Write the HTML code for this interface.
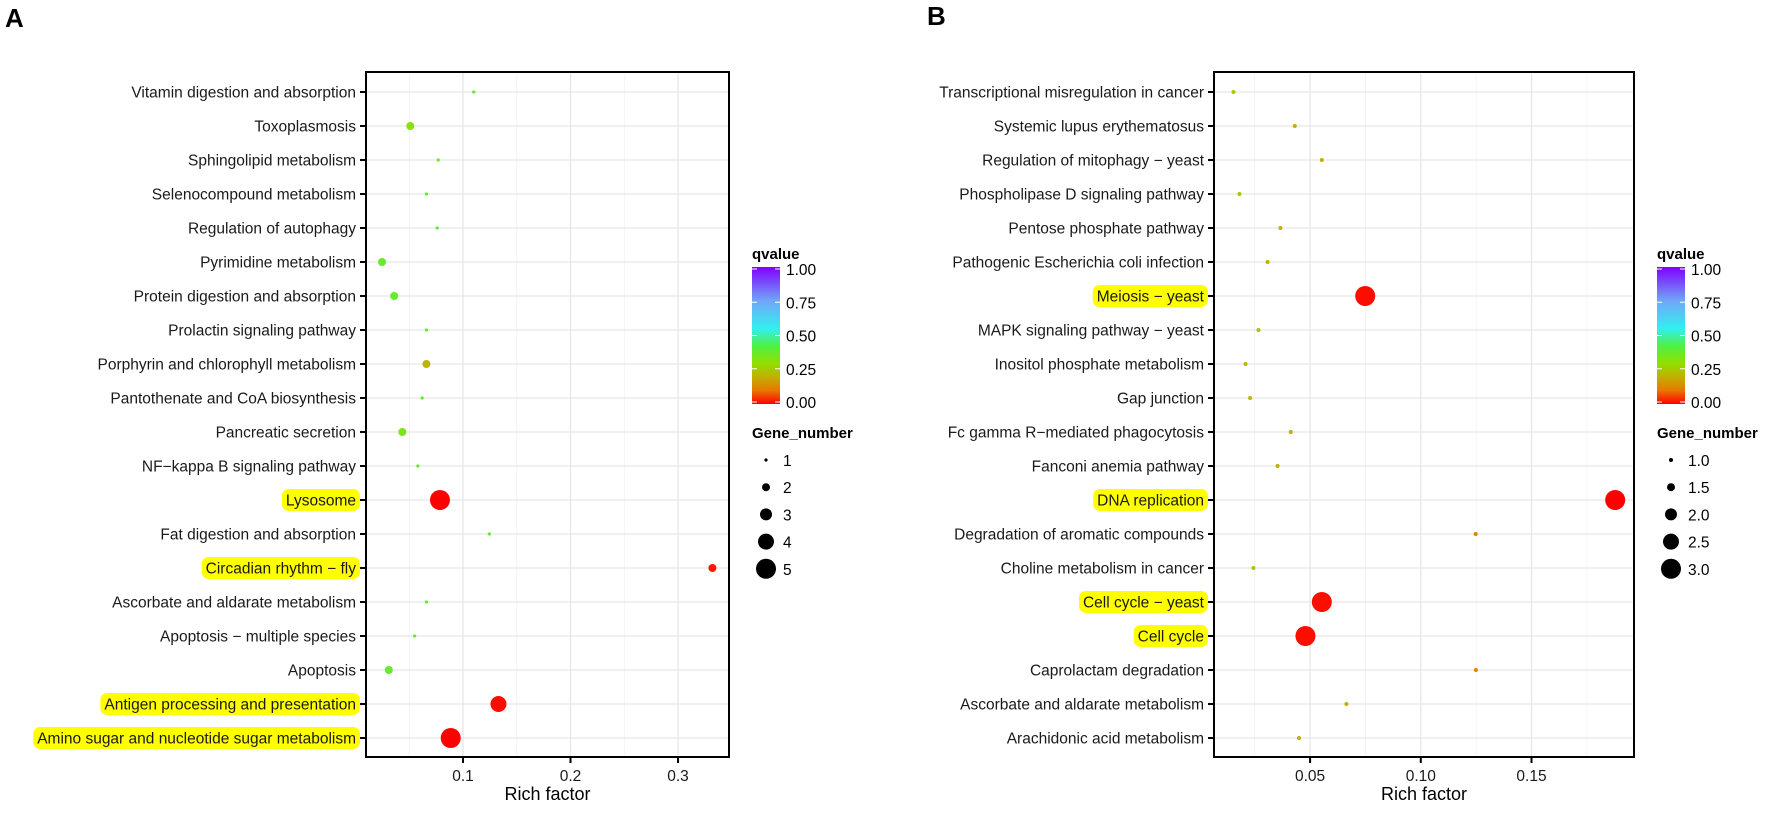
<!DOCTYPE html>
<html><head><meta charset="utf-8"><style>
html,body{margin:0;padding:0;background:#fff;}
svg{display:block;font-family:"Liberation Sans",Arial,sans-serif;}
</style></head><body>
<svg id="chart" width="1772" height="815" viewBox="0 0 1772 815" xmlns="http://www.w3.org/2000/svg">
<defs>
<linearGradient id="qgrad" x1="0" y1="1" x2="0" y2="0">
<stop offset="0" stop-color="#ff0000"/><stop offset="0.1" stop-color="#e87800"/><stop offset="0.2" stop-color="#c0b000"/><stop offset="0.3" stop-color="#90e000"/><stop offset="0.42" stop-color="#50f040"/><stop offset="0.55" stop-color="#30f0f0"/><stop offset="0.75" stop-color="#70a8f8"/><stop offset="1" stop-color="#8000ff"/>
</linearGradient>
</defs>
<text x="5" y="27" font-size="26" font-weight="bold">A</text>
<text x="927" y="25" font-size="26" font-weight="bold">B</text>
<g id="pa"></g>
<g id="pb"></g>
</svg>
<script>
const NS='http://www.w3.org/2000/svg';
const catsA=['Vitamin digestion and absorption','Toxoplasmosis','Sphingolipid metabolism','Selenocompound metabolism','Regulation of autophagy','Pyrimidine metabolism','Protein digestion and absorption','Prolactin signaling pathway','Porphyrin and chlorophyll metabolism','Pantothenate and CoA biosynthesis','Pancreatic secretion','NF\u2212kappa B signaling pathway','Lysosome','Fat digestion and absorption','Circadian rhythm \u2212 fly','Ascorbate and aldarate metabolism','Apoptosis \u2212 multiple species','Apoptosis','Antigen processing and presentation','Amino sugar and nucleotide sugar metabolism'];
const richA=[0.110,0.051,0.077,0.066,0.076,0.0247,0.036,0.066,0.066,0.062,0.0436,0.058,0.0786,0.1245,0.332,0.066,0.055,0.031,0.133,0.0886];
const geneA=[1,2,1,1,1,2,2,1,2,1,2,1,5,1,2,1,1,2,4,5];
const qA=[0.38,0.31,0.38,0.38,0.38,0.38,0.38,0.38,0.21,0.38,0.34,0.38,0.0,0.38,0.02,0.38,0.38,0.38,0.01,0.0];
const hlA=[12,14,18,19];
const catsB=['Transcriptional misregulation in cancer','Systemic lupus erythematosus','Regulation of mitophagy \u2212 yeast','Phospholipase D signaling pathway','Pentose phosphate pathway','Pathogenic Escherichia coli infection','Meiosis \u2212 yeast','MAPK signaling pathway \u2212 yeast','Inositol phosphate metabolism','Gap junction','Fc gamma R\u2212mediated phagocytosis','Fanconi anemia pathway','DNA replication','Degradation of aromatic compounds','Choline metabolism in cancer','Cell cycle \u2212 yeast','Cell cycle','Caprolactam degradation','Ascorbate and aldarate metabolism','Arachidonic acid metabolism'];
const richB=[0.0154,0.0431,0.0553,0.0181,0.0366,0.0308,0.0749,0.0267,0.0208,0.0229,0.0413,0.0353,0.1878,0.1248,0.0244,0.0553,0.0479,0.1249,0.0664,0.0450];
const geneB=[1,1,1,1,1,1,3,1,1,1,1,1,3,1,1,3,3,1,1,1];
const qB=[0.25,0.2,0.2,0.25,0.2,0.2,0.01,0.24,0.22,0.22,0.2,0.2,0.0,0.12,0.25,0.01,0.01,0.12,0.2,0.2];
const hlB=[6,12,15,16];
const ticksA=[0.1,0.2,0.3], tickLabA=['0.1','0.2','0.3'], minorA=[0.05,0.15,0.25];
const ticksB=[0.05,0.10,0.15], tickLabB=['0.05','0.10','0.15'], minorB=[0.025,0.075,0.125,0.175];
const qTicks=[0,0.25,0.5,0.75,1], qLab=['0.00','0.25','0.50','0.75','1.00'];
const legGeneA=[1,2,3,4,5], legGeneALab=['1','2','3','4','5'];
const legGeneB=[1,1.5,2,2.5,3], legGeneBLab=['1.0','1.5','2.0','2.5','3.0'];

const stops=[[0,[255,0,0]],[0.1,[232,120,0]],[0.2,[192,176,0]],[0.3,[144,224,0]],[0.42,[80,240,64]],[0.55,[48,240,240]],[0.75,[112,168,248]],[1,[128,0,255]]];
function qcol(q){for(let i=1;i<stops.length;i++){if(q<=stops[i][0]){const a=stops[i-1],b=stops[i];const t=(q-a[0])/(b[0]-a[0]);const c=a[1].map((v,k)=>Math.round(v+(b[1][k]-v)*t));return 'rgb('+c.join(',')+')';}}return 'rgb(128,0,255)';}
function mk(p,tag,at){const e=document.createElementNS(NS,tag);for(const k in at)e.setAttribute(k,at[k]);p.appendChild(e);return e;}

function panel(g,cfg){
  const {L,R,T,B,x0,x1,cats,rich,gene,q,hl,ticks,tickLab,minor,rad,legX,legGene,legLab,legRad}=cfg;
  const X=v=>L+(v-x0)/(x1-x0)*(R-L);
  const rowY=i=>92+i*34;
  for(const m of minor){const l=mk(g,'line',{x1:X(m),x2:X(m),y1:T,y2:B,stroke:'#f2f2f2','stroke-width':0.8});
    
    }
  for(const m of ticks){const l=mk(g,'line',{x1:X(m),x2:X(m),y1:T,y2:B,stroke:'#e6e6e6','stroke-width':1.3});
    
    }
  cats.forEach((c,i)=>{const y=rowY(i);
    const l=mk(g,'line',{x1:L,x2:R,y1:y,y2:y,stroke:'#e6e6e6','stroke-width':1.3});
    
    
    const tk=mk(g,'line',{x1:L-6,x2:L,y1:y,y2:y,stroke:'#000','stroke-width':2});
    
    
    const t=mk(g,'text',{x:L-10,y:y+5.5,'font-size':15.5,'text-anchor':'end',fill:'#1a1a1a'});
    t.textContent=c;
    
    
    if(hl.includes(i)){const w=t.getComputedTextLength();
      const r=mk(g,'rect',{x:L-10-w-4,y:y-11,width:w+8,height:22,rx:7,fill:'#ffff00'});
      
      
      g.insertBefore(r,t);}
  });
  cats.forEach((c,i)=>{const d=mk(g,'circle',{cx:X(rich[i]),cy:rowY(i),r:rad(gene[i]),fill:qcol(q[i])});
    
    });
  const fr=mk(g,'rect',{x:L,y:T,width:R-L,height:B-T,fill:'none',stroke:'#000','stroke-width':2});
  
  
  ticks.forEach((v,i)=>{const l=mk(g,'line',{x1:X(v),x2:X(v),y1:B,y2:B+6,stroke:'#000','stroke-width':2});
    
    
    const t=mk(g,'text',{x:X(v),y:B+24,'font-size':15.5,'text-anchor':'middle',fill:'#1a1a1a'});t.textContent=tickLab[i];
    
    });
  const xt=mk(g,'text',{x:(L+R)/2,y:B+43,'font-size':18,'text-anchor':'middle',fill:'#000'});xt.textContent='Rich factor';
  
  
  const qt=mk(g,'text',{x:legX,y:259,'font-size':15,'font-weight':'bold'});qt.textContent='qvalue';
  
  
  const cb=mk(g,'rect',{x:legX,y:267,width:28,height:137,fill:'url(#qgrad)'});
  
  
  qTicks.forEach((v,i)=>{const y=402-v*133;
    mk(g,'line',{x1:legX,x2:legX+5,y1:y,y2:y,stroke:'#fff','stroke-width':1});
    mk(g,'line',{x1:legX+23,x2:legX+28,y1:y,y2:y,stroke:'#fff','stroke-width':1});
    const t=mk(g,'text',{x:legX+34,y:y+6,'font-size':15.5});t.textContent=qLab[i];
    
    });
  const gt=mk(g,'text',{x:legX,y:438,'font-size':15,'font-weight':'bold'});gt.textContent='Gene_number';
  
  
  legGene.forEach((v,i)=>{const y=460+i*27.2;
    const c=mk(g,'circle',{cx:legX+14,cy:y,r:legRad(v),fill:'#000'});
    
    
    const t=mk(g,'text',{x:legX+31,y:y+6,'font-size':15.5});t.textContent=legLab[i];
    
    });
}
const radA=n=>[0,1.6,4,6,8,10][n];
const radB=n=>2+(n-1)*4;
panel(document.getElementById('pa'),{L:366,R:729,T:72,B:757,x0:0.0098,x1:0.3474,cats:catsA,rich:richA,gene:geneA,q:qA,hl:hlA,ticks:ticksA,tickLab:tickLabA,minor:minorA,rad:radA,legX:752,legGene:legGeneA,legLab:legGeneALab,legRad:radA});
panel(document.getElementById('pb'),{L:1214,R:1634,T:72,B:757,x0:0.0066,x1:0.1963,cats:catsB,rich:richB,gene:geneB,q:qB,hl:hlB,ticks:ticksB,tickLab:tickLabB,minor:minorB,rad:radB,legX:1657,legGene:legGeneB,legLab:legGeneBLab,legRad:radB});
</script>
</body></html>
